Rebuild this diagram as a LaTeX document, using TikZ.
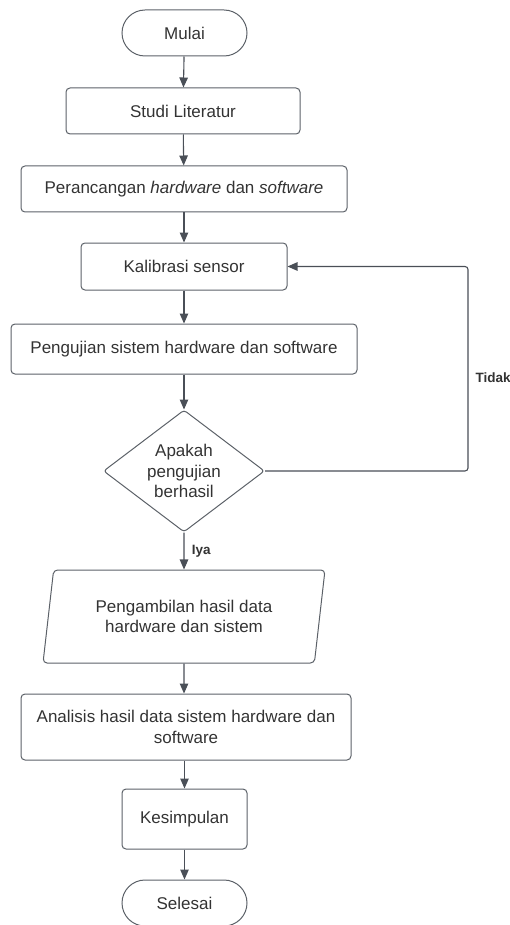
\documentclass[tikz,border=0pt]{standalone}
\usepackage{fontspec}
\setmainfont{Liberation Sans}
\usetikzlibrary{arrows.meta}
\usetikzlibrary{shapes.geometric}
\definecolor{garis}{HTML}{4A4F57}
\definecolor{tepi}{HTML}{5C6168}
\definecolor{teks}{HTML}{333333}

\begin{document}
\begin{tikzpicture}[x=1pt,y=-1pt]
		\useasboundingbox (0,0) rectangle (509,925);
		\begin{scope}[every node/.style={draw=tepi,line width=1pt,text=teks,align=center,
		              font=\fontsize{17}{20.5}\selectfont},
		              proses/.style={rectangle,rounded corners=4pt,minimum height=46pt},
		              terminal/.style={rectangle,rounded corners=23pt,minimum width=125pt,minimum height=46pt}]
		    	\node[terminal] (mulai) at (184.5,33) {Mulai};
			\node[proses,minimum width=234pt] (studi) at (183,111) {Studi Literatur};
		    	\node[proses,minimum width=326pt] (rancang) at (184,189) {Perancangan \textit{hardware} dan \textit{software}};
			\node[proses,minimum width=206pt,minimum height=47pt] (kalibrasi) at (184,266.5) {Kalibrasi sensor};
		    	\node[proses,minimum width=346pt,minimum height=50pt] (uji) at (184,349) {Pengujian sistem hardware dan software};
			\node[diamond,rounded corners=3pt,inner sep=0pt,aspect=1.3,minimum width=161pt,minimum height=122pt] (cek) at (184,471) {Apakah\\pengujian\\berhasil};
		    	\node[trapezium,trapezium left angle=75,trapezium right angle=105,trapezium stretches body,
			      rounded corners=4pt,minimum width=282pt,minimum height=93pt] (ambil) at (184,616.5) {Pengambilan hasil data\\hardware dan sistem};
			\node[proses,minimum width=330pt,minimum height=66pt] (analisis) at (186,727) {Analisis hasil data sistem hardware dan\\software};
		    	\node[proses,minimum width=125pt,minimum height=60pt] (simpul) at (184.5,819) {Kesimpulan};
			\node[terminal] (selesai) at (184.5,903) {Selesai};
		\end{scope}

		\coordinate (balik) at (468,471);

		\begin{scope}[>={Triangle[length=10pt,width=8.5pt]},
		              every edge/.style={draw=garis,line width=1.1pt},
		              every node/.style={text=teks,font=\bfseries\fontsize{13.5}{16}\selectfont}]
			\path (mulai) edge[->] (studi);
			\path (studi) edge[->] (rancang);
			\path (rancang) edge[->] (kalibrasi);
			\path (kalibrasi) edge[->] (uji);
			\path (uji) edge[->] (cek);
			\path (cek) edge[->] node[right,xshift=4pt] {Iya} (ambil);
			\path (ambil) edge[->] (analisis.north -| ambil.south);
			\path (analisis.south -| simpul.north) edge[->] (simpul);
			\path (simpul) edge[->] (selesai);
			\draw[draw=garis,line width=1.1pt,rounded corners=3pt,->] (cek.east) -- (balik) |- (kalibrasi.east);
			\node[anchor=west] (tidak) at (472,378) {Tidak};
		\end{scope}
\end{tikzpicture}
\end{document}
